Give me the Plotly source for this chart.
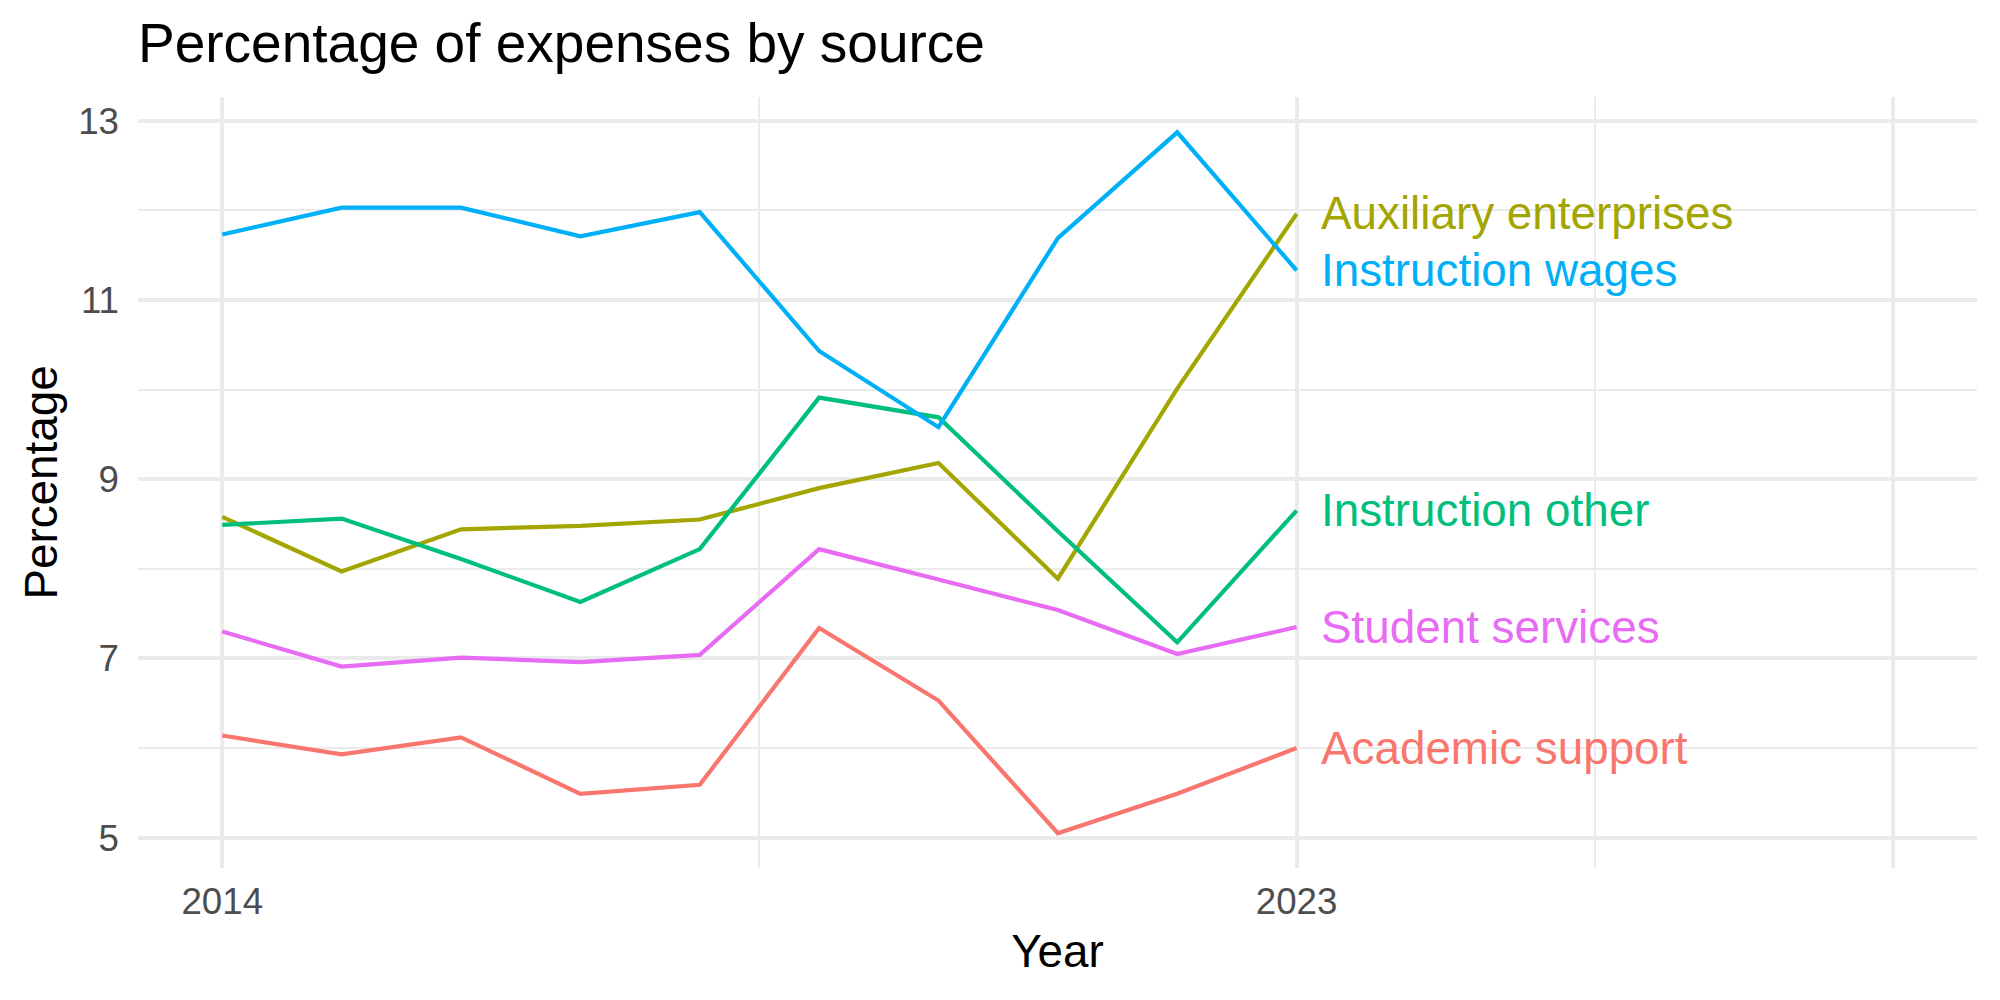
import plotly.graph_objects as go

years = [2014, 2015, 2016, 2017, 2018, 2019, 2020, 2021, 2022, 2023]

academic_support = [6.14, 5.93, 6.12, 5.49, 5.59, 7.34, 6.53, 5.05, 5.49, 6.00]
auxiliary_enterprises = [8.58, 7.97, 8.44, 8.48, 8.55, 8.90, 9.18, 7.89, 10.01, 11.96]
instruction_other = [8.49, 8.56, 8.11, 7.63, 8.22, 9.91, 9.69, 8.42, 7.18, 8.65]
instruction_wages = [11.73, 12.03, 12.03, 11.71, 11.98, 10.43, 9.58, 11.69, 12.87, 11.33]
student_services = [7.30, 6.91, 7.01, 6.96, 7.04, 8.22, 7.88, 7.54, 7.05, 7.35]

series_names = ["Academic support", "Auxiliary enterprises", "Instruction other",
                "Instruction wages", "Student services"]
series_values = [academic_support, auxiliary_enterprises, instruction_other,
                 instruction_wages, student_services]
series_colors = ["#F8766D", "#A3A500", "#00BF7D", "#00B0F6", "#E76BF3"]

x_tick_vals = [2014, 2023, 2028]
x_tick_text = ["2014", "2023", ""]
x_minor_vals = [2018.5, 2025.5]
y_tick_vals = [5, 7, 9, 11, 13]
y_minor_vals = [6, 8, 10, 12]

FONT = "Liberation Sans, Arial, Helvetica, sans-serif"
GRID = "#EBEBEB"

fig = go.Figure()
for name, vals, col in zip(series_names, series_values, series_colors):
    fig.add_trace(go.Scatter(x=years, y=vals, mode="lines", name=name,
                             line=dict(color=col, width=4.2), showlegend=False))
    fig.add_annotation(x=years[-1] + 0.19, y=vals[-1], text=name, showarrow=False,
                       xanchor="left", yanchor="middle",
                       font=dict(family=FONT, size=45.8, color=col))

fig.update_layout(
    width=2000, height=1000,
    margin=dict(l=138, r=23, t=97, b=132),
    paper_bgcolor="white", plot_bgcolor="white",
    font=dict(family=FONT),
    title=dict(text="Percentage of expenses by source", x=138/2000, xanchor="left",
               xref="container", y=1-42.5/1000, yref="container", yanchor="middle",
               font=dict(family=FONT, size=55, color="black")),
    xaxis=dict(range=[2013.294, 2028.70], tickmode="array", tickvals=x_tick_vals,
               ticktext=x_tick_text, showgrid=True, gridcolor=GRID, gridwidth=3.8,
               zeroline=False, showline=False, ticks="", ticklabelstandoff=8,
               tickfont=dict(family=FONT, size=36.7, color="#4D4D4D"),
               minor=dict(tickmode="array", tickvals=x_minor_vals, showgrid=True,
                          gridcolor=GRID, gridwidth=1.9),
               title=dict(text="Year", standoff=14,
                          font=dict(family=FONT, size=45.8, color="black"))),
    yaxis=dict(range=[4.662, 13.264], tickmode="array", tickvals=y_tick_vals,
               showgrid=True, gridcolor=GRID, gridwidth=3.8,
               zeroline=False, showline=False, ticks="", ticklabelstandoff=18,
               tickfont=dict(family=FONT, size=36.7, color="#4D4D4D"),
               minor=dict(tickmode="array", tickvals=y_minor_vals, showgrid=True,
                          gridcolor=GRID, gridwidth=1.9),
               title=dict(text="Percentage", standoff=6,
                          font=dict(family=FONT, size=45.8, color="black"))),
)

fig.write_html("out.html")
